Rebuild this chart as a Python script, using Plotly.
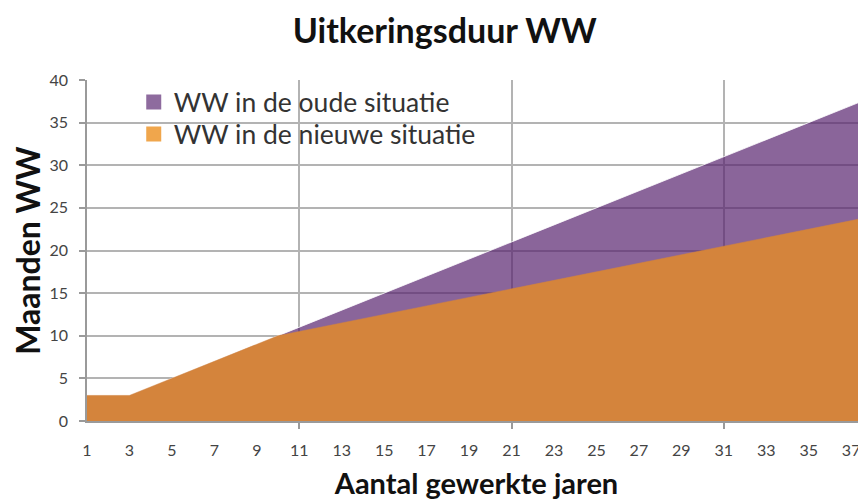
import plotly.graph_objects as go

years = list(range(1, 39))
ww_oud = [3, 3, 3, 4, 5, 6, 7, 8, 9, 10, 11, 12, 13, 14, 15, 16, 17, 18, 19, 20,
          21, 22, 23, 24, 25, 26, 27, 28, 29, 30, 31, 32, 33, 34, 35, 36, 37, 38]
ww_nieuw = [3, 3, 3, 4, 5, 6, 7, 8, 9, 10, 10.5, 11, 11.5, 12, 12.5, 13, 13.5, 14, 14.5, 15,
            15.5, 16, 16.5, 17, 17.5, 18, 18.5, 19, 19.5, 20, 20.5, 21, 21.5, 22, 22.5, 23, 23.5, 24]
x_ticks = list(range(1, 38, 2))
y_ticks = [0, 5, 10, 15, 20, 25, 30, 35, 40]
x_grid = [11, 21, 31]
names = ["WW in de oude situatie", "WW in de nieuwe situatie"]

PURPLE = "rgba(89,35,111,0.7)"   # looks #8B659A over white, lets the grid show through
ORANGE = "#D4843C"
PURPLE_KEY = "#8E6B9E"
ORANGE_KEY = "#F0A64C"
FONT = "Lato"
GRID = "#B3B3B3"

fig = go.Figure()
fig.add_trace(go.Scatter(x=years, y=ww_oud, mode="lines", line=dict(color="rgba(255,255,255,0.8)", width=1),
                         fill="tozeroy", fillcolor=PURPLE, name=names[0], showlegend=False))
fig.add_trace(go.Scatter(x=years, y=ww_nieuw, mode="lines", line=dict(color=ORANGE, width=0.5),
                         fill="tozeroy", fillcolor=ORANGE, name=names[1], showlegend=False))
# legend keys (square swatches as in the reference)
fig.add_trace(go.Scatter(x=[None], y=[None], mode="markers", name=names[0], legend="legend",
                         marker=dict(symbol="square", size=15, color=PURPLE_KEY)))
fig.add_trace(go.Scatter(x=[None], y=[None], mode="markers", name=names[1], legend="legend2",
                         marker=dict(symbol="square", size=15, color=ORANGE_KEY)))

leg_common = dict(xanchor="left", yanchor="middle", bgcolor="rgba(0,0,0,0)",
                  font=dict(family=FONT, size=26.5, color="#333"), itemwidth=30)

fig.update_layout(
    width=858, height=496,
    margin=dict(l=79, r=0, t=72, b=83, autoexpand=False),
    paper_bgcolor="white", plot_bgcolor="white",
    title=dict(text="<b>Uitkeringsduur WW</b>", x=0.509, xanchor="center", y=0.954, yanchor="middle",
               font=dict(family=FONT, size=34, color="#111")),
    font=dict(family=FONT, color="#444"),
    showlegend=True,
    legend=dict(x=0.060, y=0.935, **leg_common),
    legend2=dict(x=0.060, y=0.841, **leg_common),
    xaxis=dict(range=[1, 37.7], tickmode="array", tickvals=x_ticks, ticktext=[str(v) for v in x_ticks],
               showgrid=False, zeroline=False, showline=True, linecolor="#9A9A9A", linewidth=1.5,
               layer="above traces",
               ticks="", tickfont=dict(size=16, color="#444"), ticklabelstandoff=14, automargin=False,
               minor=dict(tickmode="array", tickvals=x_grid, showgrid=True, gridcolor=GRID, gridwidth=1.5,
                          ticks="outside", ticklen=6, tickcolor="#9A9A9A", tickwidth=1.5),
               title=dict(text="<b>Aantal gewerkte jaren</b>", font=dict(family=FONT, size=29, color="#111"),
                          standoff=16)),
    yaxis=dict(range=[0, 40], tickmode="array", tickvals=y_ticks, showgrid=True, gridcolor=GRID,
               gridwidth=1.5, zeroline=False, layer="above traces",
               showline=True, linecolor="#9A9A9A", linewidth=1.5, ticks="outside", ticklen=6,
               tickcolor="#9A9A9A", tickwidth=1.5, tickfont=dict(size=16, color="#444"), ticklabelstandoff=8,
               automargin=False,
               title=dict(text="<b>Maanden WW</b>", font=dict(family=FONT, size=32, color="#111"),
                          standoff=4)),
)

fig.write_html("out.html")
